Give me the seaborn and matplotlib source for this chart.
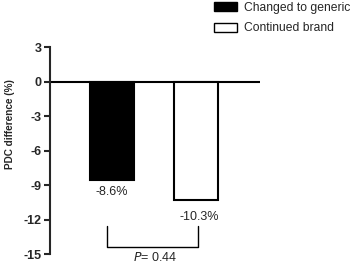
import matplotlib
matplotlib.use("Agg")
import matplotlib.pyplot as plt
import seaborn as sns
from matplotlib.patches import Patch

groups = ["Changed to generic", "Continued brand"]
pdc_diff = [-8.6, -10.3]
value_labels = ["-8.6%", "-10.3%"]
bar_colors = ["black", "white"]
y_ticks = [3, 0, -3, -6, -9, -12, -15]
p_text = "0.44"

sns.set_style("ticks")
plt.rcParams["font.family"] = ["Liberation Sans", "DejaVu Sans"]

fig = plt.figure(figsize=(3.56, 2.63), dpi=100)
ax = fig.add_axes([0.1404, 0.0342, 0.5896, 0.7870])

sns.barplot(
    x=groups,
    y=pdc_diff,
    hue=groups,
    palette=bar_colors,
    edgecolor="black",
    linewidth=1.5,
    width=0.52,
    legend=False,
    ax=ax
)

ax.set_xlim(-0.734, 1.752)
ax.set_ylim(-15, 3)
ax.set_yticks(y_ticks)
ax.set_yticklabels([str(t) for t in y_ticks], fontweight="bold", fontsize=9)
ax.tick_params(axis="y", length=4, width=1.5, pad=2)
ax.set_xticks([])
ax.set_xlabel("")
ax.set_ylabel("PDC difference (%)", fontweight="bold", fontsize=7.2)
ax.yaxis.set_label_coords(-0.165, 0.63)

for side in ["top", "right", "bottom"]:
    ax.spines[side].set_visible(False)
ax.spines["left"].set_linewidth(1.5)
ax.axhline(0, color="black", linewidth=1.5, zorder=0)

# value labels under bars
ax.text(0, pdc_diff[0] - 0.5, value_labels[0], ha="center", va="top", fontsize=9)
ax.text(1.03, pdc_diff[1] - 0.95, value_labels[1], ha="center", va="top", fontsize=9)

# significance bracket
ax.plot([-0.06, -0.06, 1.02, 1.02], [-12.6, -14.35, -14.35, -12.6],
        color="black", linewidth=1, clip_on=False)
ax.text(0.51, -14.75, "$P$= " + p_text, ha="center", va="top", fontsize=9)

handles = [Patch(facecolor=c, edgecolor="black", linewidth=1) for c in bar_colors]
fig.legend(
    handles, groups,
    loc="upper left",
    bbox_to_anchor=(0.57, 1.035),
    frameon=False,
    fontsize=8.7,
    handlelength=1.9,
    handleheight=0.8,
    labelspacing=0.72,
    handletextpad=0.56
)

fig.savefig("out.png", dpi=100)
